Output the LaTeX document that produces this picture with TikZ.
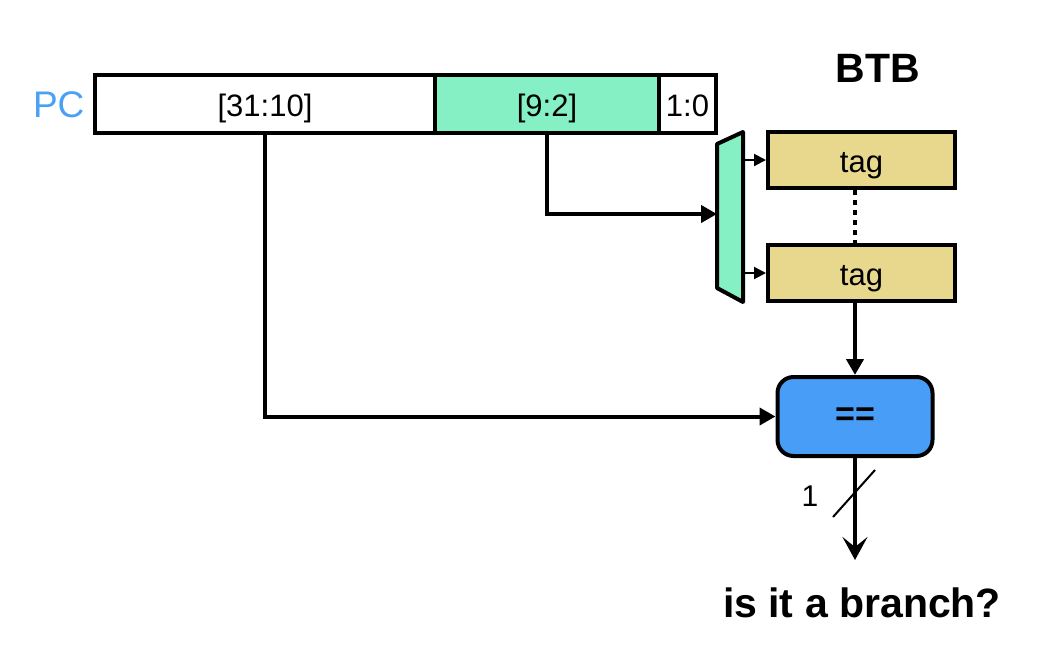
\documentclass[tikz,border=0pt]{standalone}
\usepackage{fontspec}
\setmainfont{Liberation Sans}
\usetikzlibrary{arrows.meta}
\definecolor{mint}{RGB}{132,240,196}
\definecolor{khaki}{RGB}{231,216,141}
\definecolor{cmpblue}{RGB}{72,158,246}
\definecolor{pcblue}{RGB}{74,160,245}
\tikzset{
  seg/.style={draw, line width=4pt, minimum height=58pt, inner sep=0pt, text height=25pt, text depth=0pt, font=\fontsize{31}{36}\selectfont},
  tagbox/.style={draw, line width=4pt, fill=khaki, minimum width=187pt, minimum height=56pt, inner sep=0pt, text height=25pt, text depth=0pt, font=\fontsize{31}{36}\selectfont},
  thickarrow/.style={line width=4pt, -{Triangle[length=16pt,width=17pt]}},
  thinarrow/.style={line width=2pt, -{Triangle[length=12pt,width=12pt]}},
  outarrow/.style={line width=4pt, -{Stealth[length=23pt,width=25pt,inset=10pt]}},
}
\begin{document}
\begin{tikzpicture}[x=1pt,y=-1pt]
\useasboundingbox (0,0) rectangle (1060,654);
% PC register
\node[seg, minimum width=340pt, fill=white] (hi) at (265,103.5) {[31:10]};
\node[seg, minimum width=224pt, fill=mint] (mid) at (547,103.5) {[9:2]};
\node[seg, minimum width=57pt, fill=white] (lo) at (687.5,103.5) {1:0};
\node[text=pcblue, font=\fontsize{37}{42}\selectfont, anchor=east] (pc) at (88,105) {PC};
% BTB title
\node[font=\fontsize{41}{46}\selectfont\bfseries] (btb) at (878,68) {BTB};
% mux
\draw[line width=4pt, fill=mint, line join=round] (717,144) -- (743,132) -- (743,302) -- (717,288) -- cycle;
\coordinate (muxin) at (717,214);
\coordinate (muxo1) at (743,160);
\coordinate (muxo2) at (743,273);
% tags
\node[tagbox] (tag1) at (861.5,160) {tag};
\node[tagbox] (tag2) at (861.5,273) {tag};
\draw[line width=4pt, dash pattern=on 5pt off 5pt] ([xshift=-6.5pt]tag1.south) -- ([xshift=-6.5pt]tag2.north);
% comparator
\node[draw, line width=4pt, fill=cmpblue, rounded corners=16pt, minimum width=155pt, minimum height=79pt, inner sep=0pt, font=\fontsize{34}{40}\selectfont\bfseries] (cmp) at (855,416.5) {==};
% output label
\node[font=\fontsize{41}{46}\selectfont\bfseries] (out) at (862,603) {is it a branch?};
\coordinate (outend) at (855,560);
% connectors
\draw[thickarrow] (mid.south) |- (muxin);
\draw[thickarrow] (hi.south) |- (cmp.west);
\draw[thinarrow] (muxo1) -- (tag1.west);
\draw[thinarrow] (muxo2) -- (tag2.west);
\draw[thickarrow] ([xshift=-6.5pt]tag2.south) -- (cmp.north);
\draw[outarrow] (cmp.south) -- (outend);
\coordinate (s1) at (833,517);
\coordinate (s2) at (875,470);
\draw[line width=2pt] (s1) -- (s2);
\node[font=\fontsize{30}{36}\selectfont] (one) at (810,496) {1};
\end{tikzpicture}
\end{document}
